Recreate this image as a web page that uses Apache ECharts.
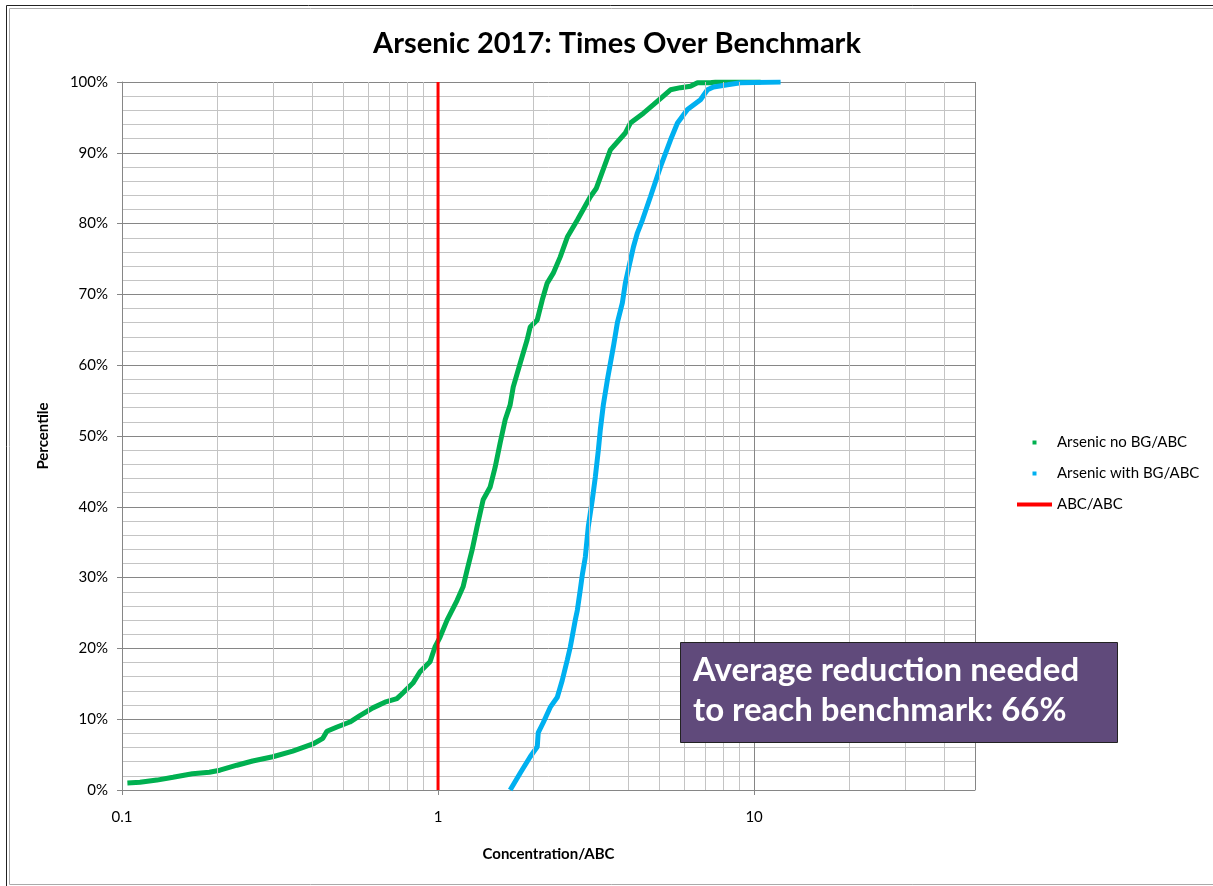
<!DOCTYPE html>
<html>
<head>
<meta charset="utf-8">
<script src="https://cdn.jsdelivr.net/npm/echarts@6/dist/echarts.min.js"></script>
<style>
html,body{margin:0;padding:0;background:#fff;}
#chart{width:1213px;height:886px;}
</style>
</head>
<body>
<div id="chart"></div>
<script>
// ---- data ----
const noBgX = [0.104,0.114,0.129,0.145,0.167,0.189,0.204,0.231,0.259,0.300,0.347,0.402,0.432,0.445,0.479,0.526,0.566,0.622,0.679,0.741,0.774,0.833,0.877,0.943,0.978,1.015,1.068,1.149,1.200,1.236,1.282,1.329,1.389,1.462,1.516,1.572,1.631,1.691,1.729,1.820,1.914,1.957,2.060,2.136,2.215,2.315,2.436,2.565,2.759,3.033,3.169,3.510,3.914,4.060,4.466,4.803,5.129,5.437,5.848,6.290,6.620,7.280,7.550,10.49];
const noBgY = [1.0,1.1,1.4,1.8,2.3,2.5,2.8,3.5,4.1,4.7,5.5,6.5,7.3,8.3,8.9,9.6,10.5,11.6,12.4,12.9,13.7,15.1,16.7,18.1,20.2,21.6,24.0,26.8,28.7,31.1,33.9,37.2,41.0,42.8,45.6,49.0,52.3,54.4,56.9,60.3,63.6,65.4,66.4,69.2,71.6,73.0,75.3,78.1,80.5,83.8,85.0,90.4,92.8,94.2,95.6,96.8,97.9,98.9,99.2,99.4,99.9,99.9,100,100];
const withBgX = [1.691,1.820,1.957,2.060,2.075,2.151,2.265,2.384,2.472,2.565,2.621,2.718,2.759,2.819,2.861,2.924,2.988,3.077,3.145,3.215,3.262,3.334,3.433,3.587,3.693,3.830,3.914,4.000,4.151,4.274,4.433,4.699,5.054,5.437,5.722,6.154,6.767,7.120,7.440,8.240,9.060,12.13];
const withBgY = [0,2.4,4.7,6.1,8.1,9.5,11.7,13.1,15.5,18.4,20.2,24.0,25.4,28.3,30.4,32.9,37.2,41.0,44.2,48.0,50.9,54.4,57.9,62.6,66.0,68.8,71.6,73.5,76.7,78.7,80.5,83.8,88.0,91.8,94.2,96.1,97.5,98.9,99.3,99.6,99.9,100];
const abcX = [1, 1];
const abcY = [0, 100];
const xTickLabels = ['0.1', '1', '10'];
const xMinorGrid = [0.2,0.3,0.4,0.5,0.6,0.7,0.8,0.9,2,3,4,5,6,7,8,9,20,30,40];
const seriesNames = ['Arsenic no BG/ABC', 'Arsenic with BG/ABC', 'ABC/ABC'];
const titleText = 'Arsenic 2017: Times Over Benchmark';
const xName = 'Concentration/ABC';
const yName = 'Percentile';
const noteLines = ['Average reduction needed', 'to reach benchmark: 66%'];

const zip = (xs, ys) => xs.map((x, i) => [x, ys[i]]);
const FONT = 'Lato, "Open Sans", sans-serif';
const MAJOR = '#868686';
const MINOR = '#c4c4c4';
const sq = 'path://M0 0H10V10H0Z';

const chart = echarts.init(document.getElementById('chart'), null, {renderer: 'canvas'});
chart.setOption({
  animation: false,
  backgroundColor: '#fff',
  title: {
    text: titleText, left: 612, textAlign: 'center', top: 24,
    textStyle: {fontFamily: FONT, fontWeight: 'bold', fontSize: 29, color: '#000'}
  },
  grid: {left: 122, right: 238, top: 82, bottom: 96, containLabel: false},
  legend: {
    orient: 'vertical', left: 1012, top: 430,
    itemWidth: 35, itemHeight: 4, itemGap: 16,
    textStyle: {fontFamily: FONT, fontSize: 15, color: '#000'},
    data: [
      {name: seriesNames[0], icon: sq},
      {name: seriesNames[1], icon: sq},
      {name: seriesNames[2], icon: 'rect'}
    ]
  },
  xAxis: {
    type: 'log', logBase: 10, min: 0.1, max: 50,
    name: xName, nameLocation: 'middle', nameGap: 57,
    nameTextStyle: {fontFamily: FONT, fontWeight: 'bold', fontSize: 15, color: '#000'},
    axisLine: {show: true, lineStyle: {color: MAJOR, width: 1}},
    axisTick: {show: true, length: 5, lineStyle: {color: MAJOR}},
    axisLabel: {
      fontFamily: FONT, fontSize: 15, color: '#000', margin: 20,
      showMaxLabel: false,
      formatter: v => {
        const l = Math.log10(v);
        if (Math.abs(l - Math.round(l)) < 1e-6) {
          const idx = Math.round(l) + 1;
          return xTickLabels[idx] !== undefined ? xTickLabels[idx] : '';
        }
        return '';
      }
    },
    splitLine: {show: true, lineStyle: {color: MAJOR, width: 1}}
  },
  yAxis: {
    type: 'value', min: 0, max: 100, interval: 10,
    name: yName, nameLocation: 'middle', nameGap: 71, nameRotate: 90,
    nameTextStyle: {fontFamily: FONT, fontWeight: 'bold', fontSize: 15, color: '#000'},
    axisLine: {show: true, lineStyle: {color: MAJOR, width: 1}},
    axisTick: {show: true, length: 5, lineStyle: {color: MAJOR}},
    axisLabel: {fontFamily: FONT, fontSize: 15, color: '#000', margin: 14, formatter: '{value}%'},
    splitLine: {show: true, lineStyle: {color: MAJOR, width: 1}},
    minorTick: {show: false, splitNumber: 5},
    minorSplitLine: {show: true, lineStyle: {color: MINOR, width: 1}}
  },
  series: [
    {
      name: 'grid-minor', type: 'line', data: [], z: 1, silent: true,
      markLine: {
        silent: true, symbol: ['none', 'none'], label: {show: false},
        lineStyle: {color: MINOR, width: 1, type: 'solid'},
        emphasis: {disabled: true},
        data: xMinorGrid.map(v => ({xAxis: v}))
      }
    },
    {
      name: seriesNames[0], type: 'line', data: zip(noBgX, noBgY),
      symbol: 'none', color: '#00b050', z: 3,
      lineStyle: {width: 5, color: '#00b050'}
    },
    {
      name: seriesNames[1], type: 'line', data: zip(withBgX, withBgY),
      symbol: 'none', color: '#00b0f0', z: 3,
      lineStyle: {width: 5, color: '#00b0f0'}
    },
    {
      name: seriesNames[2], type: 'line', data: zip(abcX, abcY),
      symbol: 'none', color: '#ff0000', z: 4,
      lineStyle: {width: 3, color: '#ff0000'}
    }
  ],
  graphic: [
    {type: 'rect', shape: {x: 6.5, y: 5.5, width: 1230, height: 900}, style: {fill: 'none', stroke: '#222', lineWidth: 1}, silent: true},
    {type: 'rect', shape: {x: 9.5, y: 8.5, width: 1230, height: 876}, style: {fill: 'none', stroke: '#aaa', lineWidth: 1}, silent: true},
    {type: 'rect', shape: {x: 680.5, y: 642.5, width: 437, height: 100}, style: {fill: '#604a7b', stroke: '#222', lineWidth: 1}, z: 100},
    {type: 'text', x: 693, y: 650, z: 101,
     style: {text: noteLines.join('\n'), fill: '#fff', font: 'bold 33px ' + FONT, lineHeight: 40}}
  ]
});
</script>
</body>
</html>
